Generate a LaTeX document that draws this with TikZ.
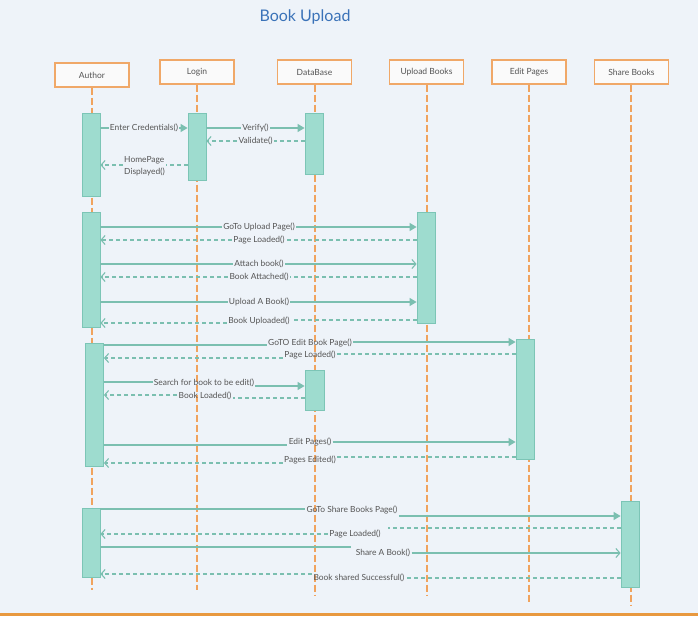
\documentclass[tikz,border=0pt]{standalone}
\usepackage{fontspec}
\setmainfont{Lato}
\usetikzlibrary{arrows.meta}
\definecolor{bg}{HTML}{EEF3F9}
\definecolor{txt}{HTML}{555555}
\definecolor{ttl}{HTML}{3A72B8}
\definecolor{orl}{HTML}{F0A35E}
\definecolor{orb}{HTML}{F0A868}
\definecolor{hdf}{HTML}{FAFAFA}
\definecolor{actf}{HTML}{9EDCCF}
\definecolor{actb}{HTML}{7CC5B6}
\definecolor{msgc}{HTML}{7BBFB0}
\definecolor{botl}{HTML}{E8993F}
\tikzset{
  head/.style={draw=orb, fill=hdf, line width=1.4pt, minimum width=74pt, minimum height=24pt, inner sep=0pt, font=\fontsize{8.5}{10}\selectfont, text=txt},
  life/.style={draw=orl, line width=1.3pt, dash pattern=on 7pt off 3pt},
  act/.style={draw=actb, fill=actf, line width=0.8pt, minimum width=18pt, inner sep=0pt},
  lbl/.style={font=\fontsize{8.4}{9}\selectfont, text=txt, inner sep=1.2pt},
  msg/.style={draw=msgc, line width=1.1pt},
  ret/.style={draw=msgc, line width=1.1pt, dash pattern=on 4pt off 3pt},
  fil/.style={-{Triangle[length=7pt,width=8pt]}},
  opn/.style={-{Straight Barb[length=4pt,width=9pt]}}
}
\begin{document}
\begin{tikzpicture}[x=1pt,y=-1pt]
\fill[bg] (0,0) rectangle (698,616);
\useasboundingbox (0,0) rectangle (698,616);
\fill[botl] (0,613) rectangle (698,616);

\node[font=\fontsize{16}{19}\selectfont, text=ttl] (title) at (305,17) {Book Upload};

% headers
\node[head] (hA) at (92,75) {Author};
\node[head] (hL) at (197,72) {Login};
\node[head] (hD) at (314.5,72) {DataBase};
\node[head] (hU) at (426.5,72) {Upload Books};
\node[head] (hE) at (529,72) {Edit Pages};
\node[head] (hS) at (631.5,72) {Share Books};

% lifeline ends
\coordinate (eA) at (92,590);
\coordinate (eL) at (197,590);
\coordinate (eD) at (315,596);
\coordinate (eU) at (427,596);
\coordinate (eE) at (529,603);
\coordinate (eS) at (631,606);
\draw[life] (hA.south) -- (eA);
\draw[life] (hL.south) -- (eL);
\draw[life] (hD.south -| eD) -- (eD);
\draw[life] (hU.south -| eU) -- (eU);
\draw[life] (hE.south) -- (eE);
\draw[life] (hS.south -| eS) -- (eS);

% activations
\node[act, minimum height=83pt] (a1) at (91,154.5) {};
\node[act, minimum height=67pt] (l1) at (197,146.5) {};
\node[act, minimum height=61pt] (d1) at (314,143.5) {};
\node[act, minimum height=115pt] (a2) at (91,269.5) {};
\node[act, minimum height=111pt] (u1) at (426,267.5) {};
\node[act, minimum height=123pt] (a3) at (94.5,404.5) {};
\node[act, minimum height=120pt] (e1) at (525,399) {};
\node[act, minimum height=40pt, minimum width=19pt] (d2) at (314.5,390) {};
\node[act, minimum height=69pt] (a4) at (91,542.5) {};
\node[act, minimum height=86pt] (s1) at (630,544) {};

% ---- section 1
\node[lbl] (t1) at (144,128) {Enter Credentials()};
\draw[msg] (a1.east |- 0,128) -- (t1.west |- 0,128);
\draw[msg,fil] (t1.east |- 0,128) -- (l1.west |- 0,128);

\node[lbl] (t2) at (255.5,128) {Verify()};
\draw[msg] (l1.east |- 0,128) -- (t2.west |- 0,128);
\draw[msg,fil] (t2.east |- 0,128) -- (d1.west |- 0,128);

\node[lbl] (t3) at (255.5,141) {Validate()};
\draw[ret] (d1.west |- 0,141) -- (t3.east |- 0,141);
\draw[ret,opn] (t3.west |- 0,141) -- (l1.east |- 0,141);

\node[lbl, align=left, font=\fontsize{8.4}{12}\selectfont] (t4) at (144.5,166) {HomePage\\Displayed()};
\draw[ret] (l1.west |- 0,165) -- (t4.east |- 0,165);
\draw[ret,opn] (t4.west |- 0,165) -- (a1.east |- 0,165);

% ---- section 2
\node[lbl] (t5) at (259,227) {GoTo Upload Page()};
\draw[msg] (a2.east |- 0,227) -- (t5.west |- 0,227);
\draw[msg,fil] (t5.east |- 0,227) -- (u1.west |- 0,227);

\node[lbl] (t6) at (259,240) {Page Loaded()};
\draw[ret] (u1.west |- 0,240) -- (t6.east |- 0,240);
\draw[ret,opn] (t6.west |- 0,240) -- (a2.east |- 0,240);

\node[lbl] (t7) at (259,264) {Attach book()};
\draw[msg] (a2.east |- 0,264) -- (t7.west |- 0,264);
\draw[msg,opn] (t7.east |- 0,264) -- (u1.west |- 0,264);

\node[lbl] (t8) at (259,277) {Book Attached()};
\draw[ret] (u1.west |- 0,277) -- (t8.east |- 0,277);
\draw[ret,opn] (t8.west |- 0,277) -- (a2.east |- 0,277);

\node[lbl] (t9) at (259,302) {Upload A Book()};
\draw[msg] (a2.east |- 0,302) -- (t9.west |- 0,302);
\draw[msg,fil] (t9.east |- 0,302) -- (u1.west |- 0,302);

\node[lbl] (t10) at (259,321) {Book Uploaded()};
\draw[ret] (u1.west |- 0,320) -- (t10.east |- 0,320);
\draw[ret,opn] (t10.west |- 0,323) -- (a2.east |- 0,323);

% ---- section 3
\node[lbl] (t11) at (310,343) {GoTO Edit Book Page()};
\draw[msg] (a3.east |- 0,345) -- (t11.west |- 0,345);
\draw[msg,fil] (t11.east |- 0,342) -- (e1.west |- 0,342);

\node[lbl] (t12) at (310,355) {Page Loaded()};
\draw[ret] (e1.west |- 0,354) -- (t12.east |- 0,354);
\draw[ret,opn] (t12.west |- 0,358) -- (a3.east |- 0,358);

\node[lbl] (t13) at (204,383) {Search for book to be edit()};
\draw[msg] (a3.east |- 0,382) -- (t13.west |- 0,382);
\draw[msg,fil] (t13.east |- 0,386) -- (d2.west |- 0,386);

\node[lbl] (t14) at (205,396) {Book Loaded()};
\draw[ret] (d2.west |- 0,398) -- (t14.east |- 0,398);
\draw[ret,opn] (t14.west |- 0,395) -- (a3.east |- 0,395);

\node[lbl] (t15) at (310,442) {Edit Pages()};
\draw[msg] (a3.east |- 0,445) -- (t15.west |- 0,445);
\draw[msg,fil] (t15.east |- 0,442) -- (e1.west |- 0,442);

\node[lbl] (t16) at (310,460) {Pages Edited()};
\draw[ret] (e1.west |- 0,457) -- (t16.east |- 0,457);
\draw[ret,opn] (t16.west |- 0,463) -- (a3.east |- 0,463);

% ---- section 4
\node[lbl] (t17) at (352,510) {GoTo Share Books Page()};
\draw[msg] (a4.east |- 0,509) -- (t17.west |- 0,509);
\draw[msg,fil] (t17.east |- 0,516) -- (s1.west |- 0,516);

\node[lbl] (t18) at (355,534) {Page Loaded()};
\draw[ret] (s1.west |- 0,528) -- ([xshift=6pt]t18.east |- 0,528);
\draw[ret,opn] (t18.west |- 0,534) -- (a4.east |- 0,534);

\node[lbl] (t19) at (383,553) {Share A Book()};
\draw[msg] (a4.east |- 0,547) -- ([xshift=-3pt]t19.west |- 0,547);
\draw[msg,opn] (t19.east |- 0,553) -- (s1.west |- 0,553);

\node[lbl] (t20) at (359,578) {Book shared Successful()};
\draw[ret] (s1.west |- 0,578) -- (t20.east |- 0,578);
\draw[ret,opn] (t20.west |- 0,574) -- (a4.east |- 0,574);
\end{tikzpicture}
\end{document}
